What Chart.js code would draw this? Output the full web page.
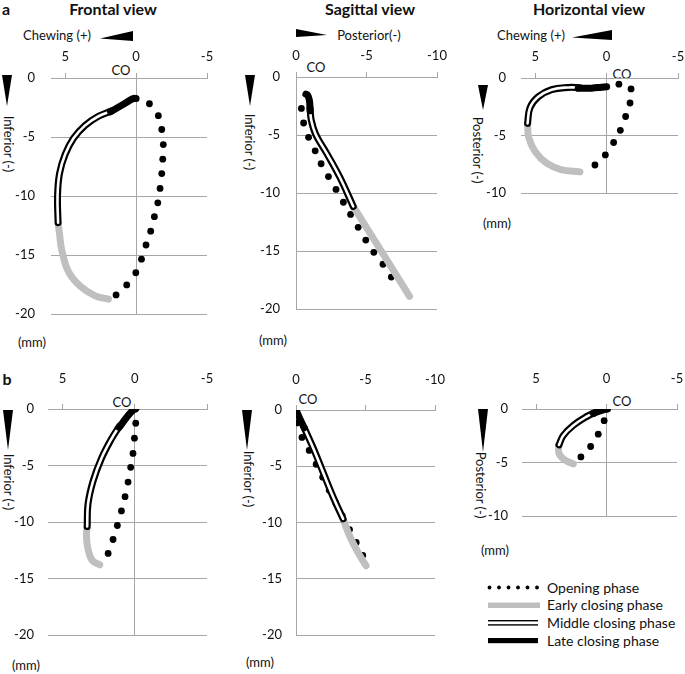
<!DOCTYPE html>
<html><head><meta charset="utf-8">
<script src="https://cdn.jsdelivr.net/npm/chart.js@4/dist/chart.umd.min.js"></script>
<style>
html,body{margin:0;padding:0;background:#fff;}
body{width:685px;height:674px;position:relative;overflow:hidden;font-family:Lato,'Open Sans',sans-serif;color:#111;}
canvas{position:absolute;}
.t{position:absolute;white-space:nowrap;line-height:1;transform:translate(-50%,-50%);}
.l{position:absolute;white-space:nowrap;line-height:1;transform:translate(0,-50%);}
.r{position:absolute;white-space:nowrap;line-height:1;transform:translate(-50%,-50%) rotate(90deg);font-size:13px;}
.ttl{font-weight:bold;font-size:16px;}
.s13{font-size:13px;}
.s14{font-size:14px;}
svg{position:absolute;left:0;top:0;}
</style></head><body>

<svg width="685" height="674" viewBox="0 0 685 674">
  <!-- axis direction arrows -->
  <polygon points="100,38.5 133,31 133,41" fill="#000"/>
  <polygon points="296,29 296,37 327,35" fill="#000"/>
  <polygon points="572,37.5 612,30 612,40" fill="#000"/>
  <polygon points="2,75 12,75 7,106" fill="#000"/>
  <polygon points="245,75 255,75 250,106" fill="#000"/>
  <polygon points="478,85 488,85 483,110" fill="#000"/>
  <polygon points="3,410 13,410 8,450" fill="#000"/>
  <polygon points="242,410 252,410 247,450" fill="#000"/>
  <polygon points="478,409 488,409 483,452" fill="#000"/>
  <!-- legend swatches -->
  <g fill="#000">
    <circle cx="489.5" cy="587.5" r="1.9"/><circle cx="499" cy="587.5" r="1.9"/><circle cx="508.5" cy="587.5" r="1.9"/>
    <circle cx="518" cy="587.5" r="1.9"/><circle cx="527.5" cy="587.5" r="1.9"/><circle cx="537" cy="587.5" r="1.9"/>
  </g>
  <rect x="488" y="602.5" width="52" height="5.5" fill="#bfbfbf"/>
  <rect x="488" y="620" width="50" height="1.4" fill="#000"/>
  <rect x="488" y="624.2" width="50" height="1.4" fill="#000"/>
  <rect x="488" y="638" width="50" height="5.2" fill="#000"/>
</svg>

<div class="t ttl" style="left:6px;top:9px;">a</div>
<div class="t ttl" style="left:7px;top:379px;">b</div>
<div class="t ttl" style="left:113px;top:9px;">Frontal view</div>
<div class="t ttl" style="left:370px;top:9px;">Sagittal view</div>
<div class="t ttl" style="left:589px;top:9px;">Horizontal view</div>

<div class="t s13" style="left:57px;top:35px;">Chewing (+)</div>
<div class="t s13" style="left:369px;top:35px;">Posterior(-)</div>
<div class="t s13" style="left:531px;top:35px;">Chewing (+)</div>

<div class="r" style="left:7.5px;top:143.5px;">Inferior (-)</div>
<div class="r" style="left:249px;top:141.5px;">Inferior (-)</div>
<div class="r" style="left:477px;top:149.5px;">Posterior (-)</div>
<div class="r" style="left:8px;top:481.5px;">Inferior (-)</div>
<div class="r" style="left:248px;top:479px;">Inferior (-)</div>
<div class="r" style="left:480px;top:485px;">Posterior (-)</div>

<div class="t s13" style="left:32px;top:342px;">(mm)</div>
<div class="t s13" style="left:273px;top:340px;">(mm)</div>
<div class="t s13" style="left:497px;top:223px;">(mm)</div>
<div class="t s13" style="left:26px;top:665px;">(mm)</div>
<div class="t s13" style="left:260px;top:662px;">(mm)</div>
<div class="t s13" style="left:495px;top:550px;">(mm)</div>

<div class="t s13" style="left:121px;top:70px;">CO</div>
<div class="t s13" style="left:316px;top:67px;">CO</div>
<div class="t s13" style="left:622px;top:74px;">CO</div>
<div class="t s13" style="left:122px;top:402px;">CO</div>
<div class="t s13" style="left:308px;top:399px;">CO</div>
<div class="t s13" style="left:622px;top:401px;">CO</div>

<div class="l s14" style="left:547px;top:587.5px;">Opening phase</div>
<div class="l s14" style="left:547px;top:605.3px;">Early closing phase</div>
<div class="l s14" style="left:547px;top:623px;">Middle closing phase</div>
<div class="l s14" style="left:547px;top:640.7px;">Late closing phase</div>

<script>
// ---------- tick labels ----------
const xTicksLR = [5, 0, -5];          // frontal & horizontal views
const xTicksSag = [0, -5, -10];       // sagittal views
const yTicks20 = [0, -5, -10, -15, -20];
const yTicks10 = [0, -5, -10];

// ---------- a: Frontal view ----------
const aFrontalOpening = [[-0.94,-2.18],[-1.57,-3.19],[-1.81,-4.36],[-1.92,-5.64],[-1.88,-6.87],[-1.81,-8.09],[-1.69,-9.35],[-1.53,-10.57],[-1.29,-11.74],[-1.03,-12.97],[-0.70,-14.14],[-0.38,-15.34],[0.02,-16.49],[0.66,-17.52],[1.41,-18.37]];
const aFrontalEarly = [[1.95,-18.72],[2.89,-18.45],[3.94,-17.63],[4.77,-16.40],[5.23,-14.63],[5.40,-13.2],[5.50,-12.25]];
const aFrontalMiddle = [[5.50,-12.25],[5.54,-10.0],[5.40,-8.09],[5.0,-6.46],[4.41,-5.10],[3.59,-4.01],[2.65,-3.24],[1.71,-2.78]];
const aFrontalLate = [[1.80,-2.86],[0.89,-2.23],[0.19,-1.74],[0.0,-1.74]];

// ---------- a: Sagittal view ----------
const aSagittalOpening = [[-0.38,-2.71],[-0.54,-3.96],[-0.89,-5.20],[-1.36,-6.36],[-1.78,-7.47],[-2.30,-8.58],[-2.84,-9.68],[-3.36,-10.79],[-3.87,-11.84],[-4.41,-12.95],[-4.95,-14.05],[-5.52,-15.10],[-6.17,-16.13],[-6.76,-17.23]];
const aSagittalEarly = [[-4.06,-11.15],[-6.05,-15.0],[-8.05,-18.89]];
const aSagittalMiddle = [[-4.06,-11.15],[-3.12,-8.66],[-2.18,-6.58],[-1.40,-4.95],[-1.08,-3.7],[-1.0,-2.7]];
const aSagittalLate = [[-1.0,-2.9],[-0.95,-2.0],[-0.82,-1.55],[-0.70,-1.48]];

// ---------- a: Horizontal view ----------
const aHorizontalOpening = [[-0.86,-0.54],[-1.71,-0.95],[-1.64,-2.17],[-1.33,-3.34],[-0.96,-4.54],[-0.49,-5.60],[0.09,-6.68],[0.82,-7.55]];
const aHorizontalEarly = [[1.87,-8.15],[3.2,-7.95],[4.2,-7.4],[5.0,-6.4],[5.45,-5.2],[5.54,-4.02]];
const aHorizontalMiddle = [[5.54,-3.94],[5.37,-2.58],[4.79,-1.63],[3.86,-1.01],[2.69,-0.82],[1.87,-0.84]];
const aHorizontalLate = [[1.99,-0.90],[1.05,-0.88],[0.35,-0.80],[0.0,-0.76]];

// ---------- b: Frontal view ----------
const bFrontalOpening = [[-0.07,-1.26],[0.02,-2.58],[0.12,-3.93],[0.28,-5.16],[0.46,-6.46],[0.67,-7.75],[0.92,-9.01],[1.20,-10.30],[1.50,-11.54],[1.84,-12.77]];
const bFrontalEarly = [[2.42,-13.77],[2.93,-13.40],[3.23,-12.40],[3.34,-11.25],[3.29,-10.39]];
const bFrontalMiddle = [[3.29,-10.39],[3.23,-8.38],[2.88,-6.37],[2.30,-4.36],[1.61,-2.64],[1.04,-1.49]];
const bFrontalLate = [[1.08,-1.64],[0.58,-0.77],[0.12,-0.11],[-0.07,0.0]];

// ---------- b: Sagittal view ----------
const bSagittalOpening = [[-0.07,-1.15],[-0.43,-2.44],[-0.95,-3.59],[-1.45,-4.82],[-1.92,-5.97],[-2.39,-7.12],[-2.86,-8.26],[-3.33,-9.41],[-3.85,-10.62],[-4.33,-11.76],[-4.80,-12.91]];
const bSagittalEarly = [[-3.39,-9.67],[-3.86,-11.19],[-4.45,-12.63],[-5.04,-13.83]];
const bSagittalMiddle = [[-3.39,-9.67],[-2.68,-7.75],[-1.97,-5.60],[-1.26,-3.44],[-0.59,-1.58]];
const bSagittalLate = [[-0.59,-1.58],[-0.26,-0.72],[0.0,0.0]];

// ---------- b: Horizontal view ----------
const bHorizontalOpening = [[0.17,-1.09],[0.59,-2.35],[1.13,-3.50],[1.82,-4.47]];
const bHorizontalEarly = [[2.36,-5.12],[2.96,-4.76],[3.38,-4.12],[3.38,-3.35]];
const bHorizontalMiddle = [[3.38,-3.35],[3.07,-2.47],[2.36,-1.53],[1.42,-0.71],[0.83,-0.35]];
const bHorizontalLate = [[0.95,-0.41],[0.35,-0.12],[-0.07,0.0]];

// ---------- styles ----------
const GRID = '#a6a6a6';
const EARLY = '#bfbfbf';
const TXT = '#111';
const FONT = {family: "Lato, 'Open Sans', sans-serif", size: 13};
const OFFL = 60, OFFT = 45, PADR = 25, PADB = 15;

const pts = a => a.map(p => ({x: p[0], y: p[1]}));

function panel(g, xr, yTicks, series) {
  const cv = document.createElement('canvas');
  const W = g.R - g.L + OFFL + PADR, H = g.B - g.T + OFFT + PADB;
  cv.width = W; cv.height = H;
  cv.style.left = (g.L - OFFL) + 'px';
  cv.style.top = (g.T - OFFT) + 'px';
  document.body.appendChild(cv);
  const line = {showLine: true, pointRadius: 0, tension: 0.4, borderCapStyle: 'round', borderJoinStyle: 'round', fill: false};
  new Chart(cv, {
    type: 'scatter',
    data: {datasets: [
      {label: 'Opening phase', data: pts(series[0]), showLine: false, pointRadius: 3.4, pointBackgroundColor: '#000', pointBorderWidth: 0, order: 5},
      Object.assign({label: 'Early closing phase', data: pts(series[1]), borderColor: EARLY, borderWidth: 7, order: 4}, line),
      Object.assign({label: 'Middle closing phase', data: pts(series[2]), borderColor: '#000', borderWidth: 7, order: 3}, line),
      Object.assign({label: 'Middle closing phase (inner)', data: pts(series[2]), borderColor: '#fff', borderWidth: 2.6, order: 2}, line),
      Object.assign({label: 'Late closing phase', data: pts(series[3]), borderColor: '#000', borderWidth: 7, order: 1}, line)
    ]},
    options: {
      responsive: false, animation: false, devicePixelRatio: 1,
      layout: {padding: {left: 0, top: 0, right: PADR, bottom: PADB}},
      plugins: {legend: {display: false}, tooltip: {enabled: false}},
      scales: {
        x: {
          type: 'linear', position: 'top', reverse: true, min: xr.min, max: xr.max,
          afterBuildTicks: s => { s.ticks = xr.ticks.map(v => ({value: v})); },
          afterFit: s => { s.height = OFFT; },
          ticks: {padding: g.px, font: FONT, color: TXT, maxRotation: 0, autoSkip: false, callback: v => String(v)},
          grid: {color: c => (c.tick && c.tick.value === 0) ? GRID : 'rgba(0,0,0,0)', tickColor: GRID, tickLength: 5, drawTicks: true, lineWidth: 1},
          border: {display: true, color: GRID}
        },
        y: {
          type: 'linear', position: 'left', min: yTicks[yTicks.length - 1], max: 0,
          afterBuildTicks: s => { s.ticks = yTicks.map(v => ({value: v})); },
          afterFit: s => { s.width = OFFL; },
          ticks: {padding: g.py, font: FONT, color: TXT, autoSkip: false, callback: v => String(v)},
          grid: {color: GRID, drawTicks: false, lineWidth: 1},
          border: {display: false}
        }
      }
    }
  });
}

const xLR = {min: -5, max: 6, ticks: xTicksLR};
const xSag = {min: -10, max: 0, ticks: xTicksSag};

panel({L: 51, R: 207, T: 78, B: 323, px: 8, py: 16}, xLR, yTicks20, [aFrontalOpening, aFrontalEarly, aFrontalMiddle, aFrontalLate]);
panel({L: 296, R: 437, T: 77, B: 318, px: 8, py: 16}, xSag, yTicks20, [aSagittalOpening, aSagittalEarly, aSagittalMiddle, aSagittalLate]);
panel({L: 521, R: 678, T: 78, B: 201, px: 8, py: 15}, xLR, yTicks10, [aHorizontalOpening, aHorizontalEarly, aHorizontalMiddle, aHorizontalLate]);
panel({L: 48, R: 207, T: 409, B: 642, px: 17, py: 14}, xLR, yTicks20, [bFrontalOpening, bFrontalEarly, bFrontalMiddle, bFrontalLate]);
panel({L: 296, R: 437, T: 410, B: 642, px: 17, py: 14}, xSag, yTicks20, [bSagittalOpening, bSagittalEarly, bSagittalMiddle, bSagittalLate]);
panel({L: 522, R: 677, T: 409, B: 523, px: 17, py: 14}, xLR, yTicks10, [bHorizontalOpening, bHorizontalEarly, bHorizontalMiddle, bHorizontalLate]);
</script>
</body></html>
